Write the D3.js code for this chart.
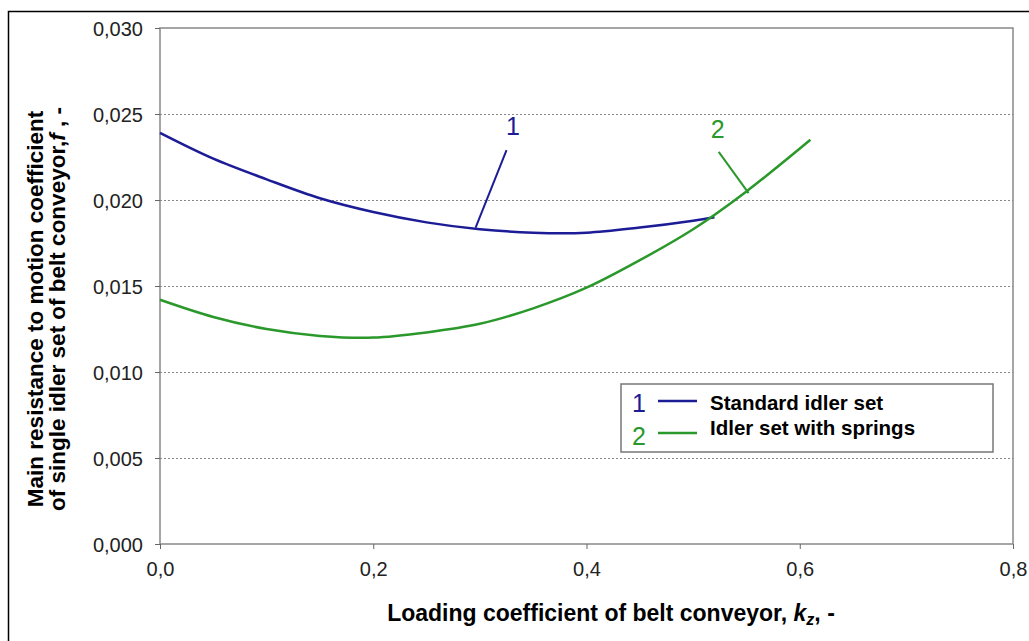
<!DOCTYPE html>
<head>
<meta charset="utf-8">
<style>
body { margin: 0; background: #fff; }
svg { font-family: "Liberation Sans", Arial, sans-serif; }
.tick text { fill: #222; font-size: 20px; }
.domain { stroke: none; }
.grid line { stroke: #888; stroke-dasharray: 2,2; }
.axis-title { font-weight: bold; fill: #000; }
</style>
</head>
<body>
<svg width="1029" height="641"></svg>
<script src="https://cdnjs.cloudflare.com/ajax/libs/d3/7.8.5/d3.min.js"></script>
<script>
// values
var kzStandard = [0, 0.05, 0.10, 0.15, 0.20, 0.25, 0.30, 0.35, 0.40, 0.45, 0.50, 0.52];
var fStandard  = [0.0239, 0.0224, 0.0212, 0.0201, 0.0193, 0.0187, 0.0183, 0.0181, 0.0181, 0.0184, 0.0188, 0.0190];
var kzSprings  = [0, 0.05, 0.10, 0.15, 0.20, 0.25, 0.30, 0.35, 0.40, 0.45, 0.50, 0.55, 0.61];
var fSprings   = [0.0142, 0.0132, 0.0125, 0.0121, 0.0120, 0.0123, 0.0128, 0.0137, 0.0149, 0.0165, 0.0183, 0.0205, 0.0235];
var seriesNames = ["Standard idler set", "Idler set with springs"];
var seriesColors = ["#1c1c96", "#2a982a"];
var xTicks = [0, 0.2, 0.4, 0.6, 0.8];
var yTicks = [0, 0.005, 0.010, 0.015, 0.020, 0.025, 0.030];

var svg = d3.select("svg");
var margin = {left: 160, right: 16, top: 28, bottom: 97};
var W = 1029 - margin.left - margin.right,
    H = 641 - margin.top - margin.bottom;

// outer frame
svg.append("rect").attr("x", 8.5).attr("y", 11.5).attr("width", 1040).attr("height", 660)
    .attr("fill", "none").attr("stroke", "#000").attr("stroke-width", 1.5);

var x = d3.scaleLinear().domain([0, 0.8]).range([0, W]);
var y = d3.scaleLinear().domain([0, 0.030]).range([H, 0]);

var g = svg.append("g").attr("transform", "translate(" + margin.left + "," + margin.top + ")");

var comma = function(fmt) { return function(d) { return d3.format(fmt)(d).replace(".", ","); }; };

g.append("g").attr("class", "grid")
  .selectAll("line")
  .data(yTicks.slice(1, -1))
  .enter().append("line")
    .attr("x1", 0).attr("x2", W)
    .attr("y1", function(d) { return Math.round(y(d)) + 0.5; })
    .attr("y2", function(d) { return Math.round(y(d)) + 0.5; });

g.append("rect").attr("width", W).attr("height", H)
    .attr("fill", "none").attr("stroke", "#888").attr("stroke-width", 1.5);

g.append("g")
    .attr("transform", "translate(0," + H + ")")
    .call(d3.axisBottom(x).tickValues(xTicks).tickFormat(comma(".1f")).tickSize(5).tickPadding(13))
    .call(function(a) { a.selectAll(".tick line").attr("stroke", "#666"); });

g.append("g")
    .call(d3.axisLeft(y).tickValues(yTicks).tickFormat(comma(".3f")).tickSize(5).tickPadding(12))
    .call(function(a) { a.selectAll(".tick line").attr("stroke", "#666"); a.selectAll(".tick text").attr("dy", "0.35em"); });

var line = d3.line()
    .x(function(d) { return x(d[0]); })
    .y(function(d) { return y(d[1]); })
    .curve(d3.curveCatmullRom);

var series = [d3.zip(kzStandard, fStandard), d3.zip(kzSprings, fSprings)];

g.selectAll(".curve")
  .data(series)
  .enter().append("path")
    .attr("class", "curve")
    .attr("d", line)
    .attr("fill", "none")
    .attr("stroke", function(d, i) { return seriesColors[i]; })
    .attr("stroke-width", 2.5);

// numbered callouts (data units)
var callouts = [
  {label: "1", at: [0.331, 0.0238], from: [0.325, 0.0229], to: [0.296, 0.0184]},
  {label: "2", at: [0.523, 0.0236], from: [0.524, 0.0228], to: [0.552, 0.0204]}
];
callouts.forEach(function(c, i) {
  g.append("line")
    .attr("x1", x(c.from[0])).attr("y1", y(c.from[1]))
    .attr("x2", x(c.to[0])).attr("y2", y(c.to[1]))
    .attr("stroke", seriesColors[i]).attr("stroke-width", 2);
  g.append("text")
    .attr("x", x(c.at[0])).attr("y", y(c.at[1]))
    .attr("text-anchor", "middle")
    .attr("fill", seriesColors[i])
    .style("font-size", "25px")
    .text(c.label);
});

// legend
var legend = svg.append("g").attr("transform", "translate(621,384)");
legend.append("rect").attr("width", 372).attr("height", 68)
    .attr("fill", "#fff").attr("stroke", "#777").attr("stroke-width", 1.5);
seriesNames.forEach(function(name, i) {
  var row = legend.append("g").attr("transform", "translate(0," + (17 + i * 32) + ")");
  row.append("text").attr("x", 11).attr("y", 11 + i * 1).attr("fill", seriesColors[i])
    .style("font-size", "25px").text(i + 1);
  row.append("line").attr("x1", 37).attr("x2", 76).attr("y1", 0).attr("y2", 0)
    .attr("stroke", seriesColors[i]).attr("stroke-width", 2.5);
  row.append("text").attr("x", 89).attr("y", 9 - i * 7)
    .style("font-size", "20.5px").style("font-weight", "bold").text(name);
});

// axis titles
var xt = svg.append("text").attr("class", "axis-title").style("font-size", "23px")
    .attr("x", 611).attr("y", 621).attr("text-anchor", "middle");
xt.append("tspan").text("Loading coefficient of belt conveyor, ");
xt.append("tspan").style("font-style", "italic").text("k");
xt.append("tspan").style("font-style", "italic").style("font-size", "16px").attr("dy", 4).text("z");
xt.append("tspan").attr("dy", -4).text(", -");

var yt = svg.append("text").attr("class", "axis-title").style("font-size", "22.5px")
    .attr("transform", "translate(43,309) rotate(-90)").attr("text-anchor", "middle");
yt.append("tspan").attr("x", 0).attr("y", 0).text("Main resistance to motion coefficient");
var yt2 = yt.append("tspan").attr("x", 0).attr("y", 22);
yt2.append("tspan").text("of single idler set of belt conveyor,");
yt2.append("tspan").style("font-style", "italic").text("f");
yt2.append("tspan").text(" , -");
</script>
</body>
